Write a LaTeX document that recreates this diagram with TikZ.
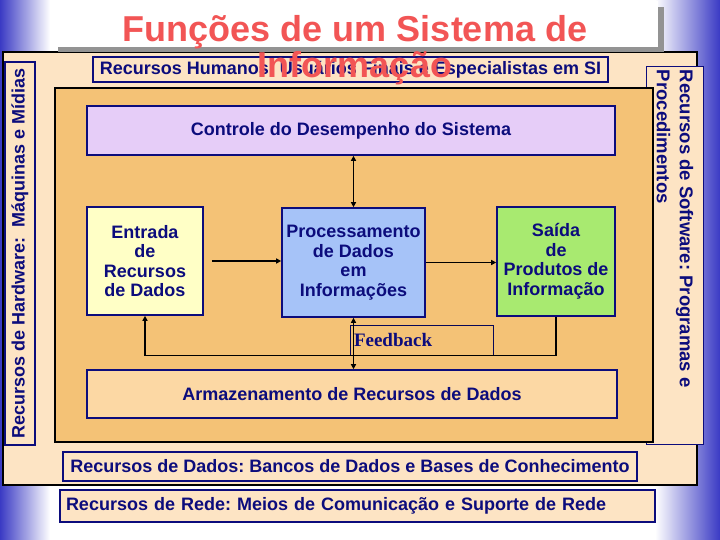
\documentclass[tikz,border=0pt]{standalone}
\usepackage{fontspec}
\setmainfont{Liberation Sans}
\newfontfamily\fbserif{Liberation Serif}
\usetikzlibrary{arrows.meta,positioning}
\definecolor{labelnavy}{HTML}{0C0C7C}
\definecolor{edgeblue}{HTML}{3A3AC4}
\definecolor{peach}{HTML}{FDE4C4}
\definecolor{panelorange}{HTML}{F4C276}
\definecolor{ctrllilac}{HTML}{E6CDF8}
\definecolor{inyellow}{HTML}{FFFFC6}
\definecolor{procblue}{HTML}{A6C3F8}
\definecolor{outgreen}{HTML}{A8EA70}
\definecolor{storepeach}{HTML}{FCD8A4}
\definecolor{titlered}{HTML}{F25555}
\newcommand{\boxfont}{\bfseries\fontsize{18}{19.5}\selectfont}
\frenchspacing

\begin{document}
\begin{tikzpicture}[
  x=1pt, y=-1pt,
  every node/.style={font=\boxfont, text=labelnavy},
  panel/.style={draw=black, line width=1.4pt, inner sep=0pt},
  res/.style={draw=labelnavy, line width=1.6pt, fill=peach, align=center, inner sep=2pt},
  func/.style={draw=labelnavy, line width=1.6pt, align=center, inner sep=2pt},
  flow/.style={-{Triangle[length=5pt, width=5pt]}, line width=1.8pt, black},
  twoway/.style={{Triangle[length=5pt, width=5pt]}-{Triangle[length=5pt, width=5pt]}, line width=1.8pt, black}
]
\useasboundingbox (0,0) rectangle (720,540);

% Background
\fill[white] (0,0) rectangle (720,540);
\shade[left color=edgeblue, right color=white] (0,0) rectangle (50,540);
\shade[left color=white, right color=edgeblue] (655,0) rectangle (720,540);

% Outer resources panel
\node[panel, fill=peach, minimum width=694pt, minimum height=433pt] (outer) at (350,268.5) {};
% Title box
\fill[gray!85] (58,7) rectangle (664,52);
\fill[white] (52,1) rectangle (658,47);

% Hardware and software
\node[res, rotate=90, minimum width=383pt, minimum height=30pt] (hardware) at (20,253.5) {Recursos de Hardware:\ \ Máquinas e Mídias};
\node[res, line width=0.8pt, rotate=-90, align=flush left, text width=370pt, inner sep=4pt, minimum height=57pt,
  font=\bfseries\fontsize{18.5}{21}\selectfont] (software) at (675,255) {Recursos de Software: Programas e\\[2pt]Procedimentos};

% Function panel
\node[panel, fill=panelorange, minimum width=598pt, minimum height=354pt] (panel) at (354,265) {};

% Human resources
\node[res, minimum width=515pt, minimum height=25pt] (humans) at (350.5,69.5) {Recursos Humanos: Usuários Finais e Especialistas em SI};

% Functions
\node[func, fill=ctrllilac, minimum width=528pt, minimum height=49pt] (control) at (351,130.5) {Controle do Desempenho do Sistema};
\node[func, fill=inyellow, minimum width=116pt, minimum height=108pt] (input) at (145,261) {Entrada\\de\\Recursos\\de Dados};
\node[func, fill=procblue, minimum width=143pt, minimum height=109pt] (process) at (353.5,262.5) {Processamento\\de Dados\\em\\Informações};
\node[func, fill=outgreen, minimum width=118pt, minimum height=109pt] (output) at (556,261.5) {Saída\\de\\Produtos de\\Informação};
\node[func, fill=storepeach, minimum width=530pt, minimum height=48pt] (storage) at (352,394) {Armazenamento de Recursos de Dados};
\node[draw=labelnavy!70!black, line width=0.8pt, font=\fbserif\bfseries\fontsize{19}{20}\selectfont, text width=135pt, align=left, inner sep=4pt, minimum height=30pt] (feedback) at (421.5,340) {Feedback};

% Data and network resources
\node[res, minimum width=574pt, minimum height=29pt] (data) at (350,466.5) {Recursos de Dados: Bancos de Dados e Bases de Conhecimento};
\node[res, text width=583pt, align=left, inner sep=6pt, minimum height=32pt] (network) at (357.5,506) {Recursos de Rede: Meios de Comunicação e Suporte de Rede};

% Flows
\draw[flow, shorten <=8pt] (input.east) -- (input.east -| process.west);
\draw[flow] (process.east) -- (process.east -| output.west);
\draw[twoway] (process.north) -- (process.north |- control.south);
\draw[twoway] (process.south) -- (process.south |- storage.north);
% Feedback loop
\draw[flow, line width=1.4pt] (output.south) |- (input.south |- feedback.south) -- (input.south);

% Title
\node[font=\bfseries\fontsize{36}{36}\selectfont, text=titlered, align=center, anchor=north, inner sep=0pt] (title) at (355,15) {Funções de um Sistema de\\Informação};
\end{tikzpicture}
\end{document}
